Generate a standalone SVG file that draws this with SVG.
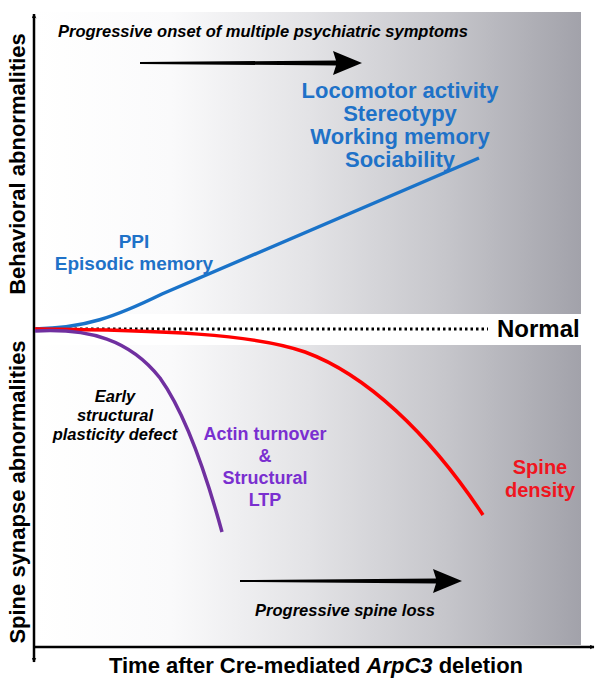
<svg xmlns="http://www.w3.org/2000/svg" width="604" height="683" viewBox="0 0 604 683">
<style>
text{font-family:"Liberation Sans",Arial,sans-serif;font-weight:bold}
.it{font-style:italic;font-size:16.5px;fill:#000}
.blue{fill:#1f72c8;font-size:19px}
.blue.big{font-size:22px}
.purple{fill:#7a2fd0;font-size:18px}
.red{fill:#f0141e;font-size:20px}
.ax{font-size:22px;fill:#000}
.curve{fill:none;stroke-width:3.5;stroke-linecap:butt}
.axis{stroke:#000;stroke-width:2.5;fill:none}
</style>
<defs>
<linearGradient id="bg" x1="0" y1="0" x2="1" y2="0">
<stop offset="0" stop-color="#ffffff"/>
<stop offset="0.25" stop-color="#fafafb"/>
<stop offset="0.5" stop-color="#e3e3e6"/>
<stop offset="0.75" stop-color="#c6c6cb"/>
<stop offset="1" stop-color="#a2a2aa"/>
</linearGradient>
<marker id="ah" viewBox="0 0 10 10" refX="9" refY="5" markerWidth="5" markerHeight="5" orient="auto-start-reverse" markerUnits="userSpaceOnUse">
<path d="M0,0 L10,5 L0,10 L3,5 Z" fill="#000"/>
</marker>
</defs>
<g id="panels">
<rect x="35" y="12" width="546" height="302" fill="url(#bg)"/>
<rect x="35" y="345" width="546" height="300" fill="url(#bg)"/>
</g>
<g id="axes">
<line class="axis" x1="34" y1="14" x2="34" y2="662" marker-start="url(#ah)" marker-end="url(#ah)"/>
<line class="axis" x1="34" y1="647" x2="594" y2="647" marker-end="url(#ah)"/>
</g>
<g id="connectors">
<line id="normal-line" x1="36" y1="329" x2="488" y2="329" stroke="#000" stroke-width="3" stroke-dasharray="2.5 3"/>
<path id="blue-curve" class="curve" stroke="#1a73c9" d="M35,329 C85,328 115,317 162,294 L479,158"/>
<path id="red-curve" class="curve" stroke="#ff0000" d="M35,329 C160,330 255,334 305,352 C365,374 428,432 483,515"/>
<path id="purple-curve" class="curve" stroke="#7030a0" d="M35,331 C90,328 130,340 160,378 C185,413 205,470 222,532"/>
<path id="top-arrow" d="M140,62 L336,60.5 L333,51 L362,63 L333,75 L336,65.5 L140,64 Z" fill="#000"/>
<path id="bottom-arrow" d="M240,580 L436,578.5 L433,569 L462,581 L433,593 L436,583.5 L240,582 Z" fill="#000"/>
</g>
<g id="title"><text class="it" x="58" y="37">Progressive onset of multiple psychiatric symptoms</text></g>
<g id="late-behaviors" text-anchor="middle">
<text class="blue big" x="400" y="98">Locomotor activity</text>
<text class="blue big" x="400" y="121">Stereotypy</text>
<text class="blue big" x="400" y="144">Working memory</text>
<text class="blue big" x="400" y="167">Sociability</text>
</g>
<g id="early-behaviors" text-anchor="middle">
<text class="blue" x="134" y="248">PPI</text>
<text class="blue" x="134" y="270">Episodic memory</text>
</g>
<g id="normal"><text x="497" y="337" font-size="24" fill="#000">Normal</text></g>
<g id="early-defect" text-anchor="middle">
<text class="it" x="115" y="402" font-size="16">Early</text>
<text class="it" x="115" y="421" font-size="16">structural</text>
<text class="it" x="115" y="440" font-size="16">plasticity defect</text>
</g>
<g id="actin" text-anchor="middle">
<text class="purple" x="265" y="440">Actin turnover</text>
<text class="purple" x="265" y="462">&amp;</text>
<text class="purple" x="265" y="484">Structural</text>
<text class="purple" x="265" y="506">LTP</text>
</g>
<g id="spine-density" text-anchor="middle">
<text class="red" x="540" y="474">Spine</text>
<text class="red" x="540" y="497">density</text>
</g>
<g id="spine-loss"><text class="it" x="345" y="616" text-anchor="middle">Progressive spine loss</text></g>
<g id="axis-labels">
<text class="ax" x="316" y="673" text-anchor="middle" font-size="23">Time after Cre-mediated <tspan font-style="italic">ArpC3</tspan> deletion</text>
<text class="ax" transform="translate(25,164) rotate(-90)" text-anchor="middle">Behavioral abnormalities</text>
<text class="ax" transform="translate(25,492) rotate(-90)" text-anchor="middle">Spine synapse abnormalities</text>
</g>
</svg>
